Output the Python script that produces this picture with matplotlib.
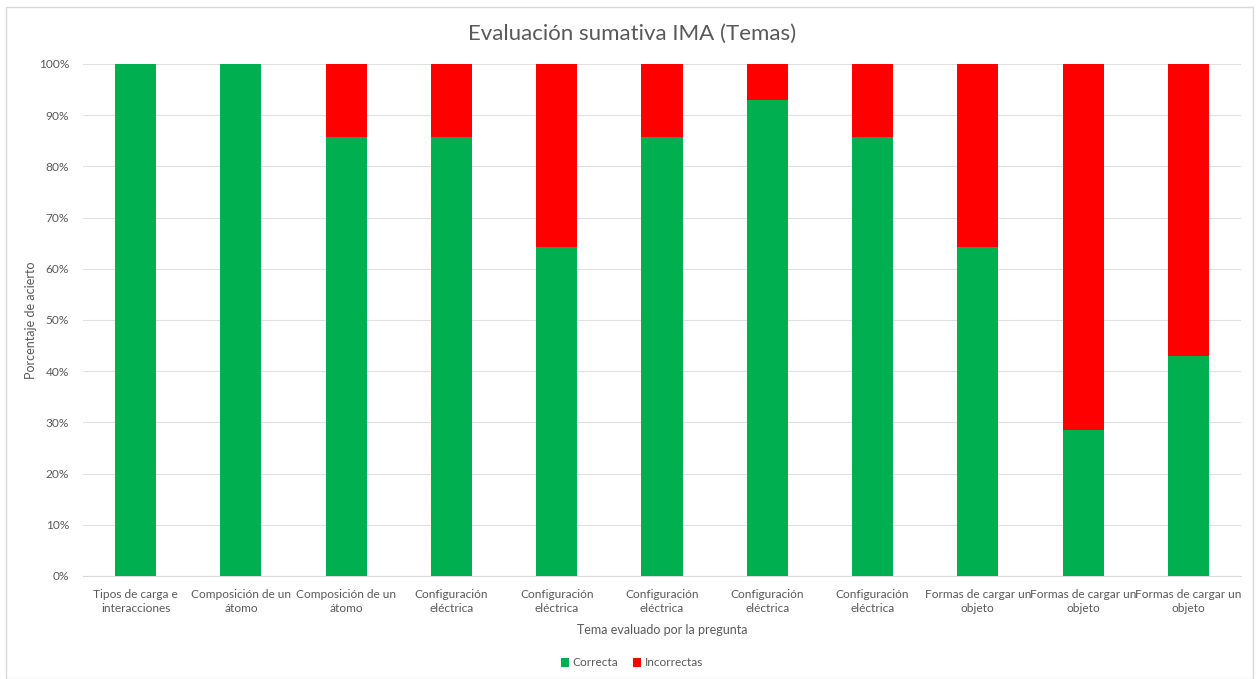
import matplotlib.pyplot as plt
from matplotlib.patches import Rectangle
from matplotlib.ticker import PercentFormatter, MultipleLocator

temas = ["Tipos de carga e\ninteracciones", "Composición de un\nátomo", "Composición de un\nátomo",
         "Configuración\neléctrica", "Configuración\neléctrica", "Configuración\neléctrica",
         "Configuración\neléctrica", "Configuración\neléctrica", "Formas de cargar un\nobjeto",
         "Formas de cargar un\nobjeto", "Formas de cargar un\nobjeto"]
correcta = [100, 100, 85.7, 85.7, 64.3, 85.7, 92.9, 85.7, 64.3, 28.6, 42.9]
incorrectas = [0, 0, 14.3, 14.3, 35.7, 14.3, 7.1, 14.3, 35.7, 71.4, 57.1]

txt = "#595959"
plt.rcParams['font.family'] = ['Lato', 'DejaVu Sans']

fig = plt.figure(figsize=(12.56, 6.79), dpi=100)
fig.patches.append(Rectangle((6 / 1256, 0), 1247 / 1256, 1 - 7 / 679, transform=fig.transFigure,
                             fill=False, edgecolor="#D9D9D9", linewidth=1))
ax = fig.add_axes([83 / 1256, 1 - 576 / 679, (1241 - 83) / 1256, (576 - 64) / 679])

x = range(len(temas))
ax.bar(x, correcta, width=0.39, color="#00B050", label="Correcta", zorder=3)
ax.bar(x, incorrectas, width=0.39, bottom=correcta, color="#FF0000", label="Incorrectas", zorder=3)

ax.set_xlim(-0.5, len(temas) - 0.5)
ax.set_ylim(0, 100)
ax.yaxis.set_major_locator(MultipleLocator(10))
ax.yaxis.set_major_formatter(PercentFormatter(decimals=0))
ax.set_xticks(list(x))
ax.set_xticklabels(temas, fontsize=8.6, color=txt, linespacing=1.4)
ax.tick_params(axis='y', labelsize=8.6, labelcolor=txt, length=0, pad=10)
ax.tick_params(axis='x', length=0, pad=9)
ax.grid(axis='y', color="#E0E0E0", linewidth=0.8, zorder=0)
for s in ["top", "right", "left"]:
    ax.spines[s].set_visible(False)
ax.spines["bottom"].set_color("#D9D9D9")

ax.set_ylabel("Porcentaje de acierto", fontsize=9, color=txt)
ax.set_xlabel("Tema evaluado por la pregunta", fontsize=9, color=txt, labelpad=7)
ax.yaxis.set_label_coords(-(83 - 37) / (1241 - 83), 0.5)
fig.text(632 / 1256, 1 - 34 / 679, "Evaluación sumativa IMA (Temas)", fontsize=16, color=txt,
         ha="center", va="center")
fig.legend(loc="center", bbox_to_anchor=(632 / 1256, 1 - 663 / 679), ncol=2, frameon=False,
           fontsize=8.6, labelcolor=txt, handlelength=0.7, handleheight=0.7, handletextpad=0.3,
           columnspacing=1.2)

fig.savefig("out.png", dpi=100)
